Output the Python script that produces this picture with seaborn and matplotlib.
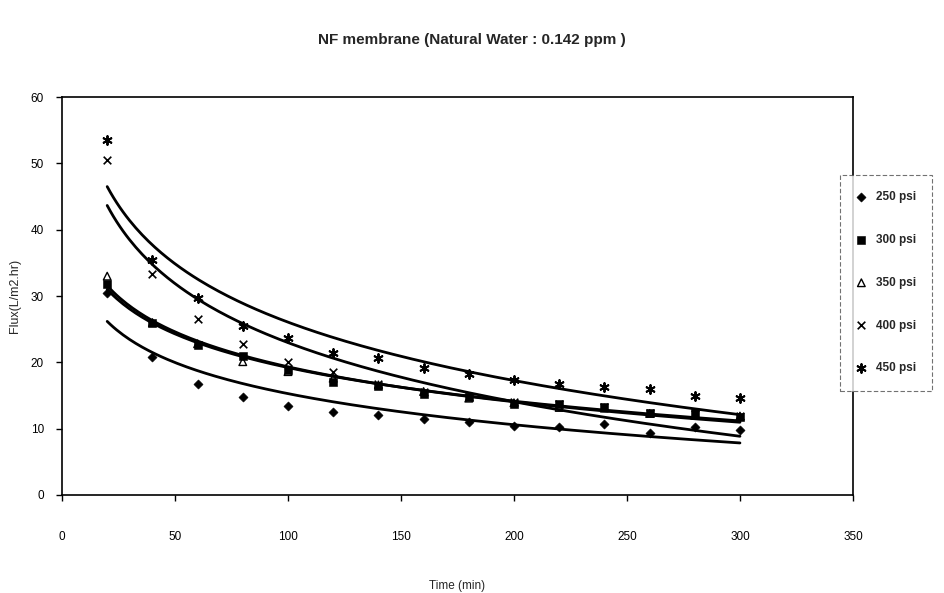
import matplotlib
matplotlib.use("Agg")
import matplotlib.pyplot as plt
import numpy as np
import pandas as pd
import seaborn as sns

# Flux readings for the NF membrane
time_min = [20, 40, 60, 80, 100, 120, 140, 160, 180, 200, 220, 240, 260, 280, 300]
flux_250 = [30.5, 20.8, 16.7, 14.7, 13.4, 12.5, 12.0, 11.5, 11.0, 10.4, 10.2, 10.7, 9.3, 10.3, 9.8]
flux_300 = [31.8, 26.0, 22.6, 20.9, 18.8, 17.1, 16.4, 15.2, 14.8, 13.7, 13.7, 13.3, 12.3, 12.3, 11.8]
flux_350 = [33.0, 26.0, 22.8, 20.1, 18.6, 17.6, 16.6, 15.6, 14.6, 13.9, 13.2, 13.1, 12.3, 12.0, 11.9]
flux_400 = [50.5, 33.3, 26.5, 22.8, 20.0, 18.6, 16.8, 15.6, 14.8, 14.0, 13.7, 13.2, 12.4, 12.2, 11.9]
flux_450 = [53.5, 35.5, 29.7, 25.5, 23.7, 21.4, 20.6, 19.1, 18.3, 17.3, 16.8, 16.3, 16.0, 14.9, 14.6]
labels = ["250 psi", "300 psi", "350 psi", "400 psi", "450 psi"]

series = [flux_250, flux_300, flux_350, flux_400, flux_450]
df = pd.DataFrame({
    "time": time_min * len(series),
    "flux": [v for s in series for v in s],
    "pressure": [lab for lab in labels for _ in time_min],
})

sns.set_theme(style="white")
plt.rcParams["font.family"] = ["Liberation Sans", "DejaVu Sans"]

fig = plt.figure(figsize=(9.45, 5.93), dpi=100)
ax = fig.add_axes([0.0656, 0.1653, 0.837, 0.671])

# marker styles roughly like the old Excel defaults
marker_opts = {
    "250 psi": dict(marker="D", s=22, color="black", edgecolor="black"),
    "300 psi": dict(marker="s", s=26, color="black", edgecolor="black"),
    "350 psi": dict(marker="^", s=30, facecolor="none", edgecolor="black", linewidth=1.0),
    "400 psi": dict(marker="x", s=30, color="black", linewidth=1.2),
    "450 psi": dict(marker=(6, 2, 0), s=40, color="black", linewidth=1.4),
}

handles = []
for lab in labels:
    sub = df[df["pressure"] == lab]
    sns.scatterplot(data=sub, x="time", y="flux", ax=ax, legend=False, **marker_opts[lab])
    handles.append(ax.collections[-1])

    # logarithmic trendline, y = a*ln(x) + b
    a, b = np.polyfit(np.log(sub["time"]), sub["flux"], 1)
    xs = np.linspace(min(time_min), max(time_min), 200)
    sns.lineplot(x=xs, y=a * np.log(xs) + b, ax=ax, color="black", linewidth=2.0)

if ax.get_legend() is not None:
    ax.get_legend().remove()

ax.set_xlim(0, 350)
ax.set_ylim(0, 60)
ax.set_xticks(range(0, 351, 50))
ax.set_yticks(range(0, 61, 10))
for side in ["left", "right", "top", "bottom"]:
    ax.spines[side].set_visible(True)
    ax.spines[side].set_color("black")
    ax.spines[side].set_linewidth(1.2)
ax.tick_params(axis="both", direction="out", length=4, width=1, colors="black", labelsize=8.5)
ax.tick_params(axis="x", pad=22, bottom=True)
ax.tick_params(axis="y", pad=9, left=True)

ax.set_xlabel("Time (min)", fontsize=8.5)
ax.set_ylabel("Flux(L/m2.hr)", fontsize=9)
ax.xaxis.set_label_coords(0.5, -0.213)
ax.yaxis.set_label_coords(-0.052, 0.5)

fig.text(0.499, 0.932, "NF membrane (Natural Water : 0.142 ppm )", ha="center", va="center",
         fontsize=11, fontweight="bold")

leg = fig.legend(handles=handles, labels=labels, loc="upper left", bbox_to_anchor=(0.889, 0.705),
                 frameon=True, fancybox=False, labelspacing=2.6, handletextpad=0.8,
                 handlelength=0.8, borderpad=1.4, borderaxespad=0.0,
                 prop={"weight": "bold", "size": 8.5})
leg.get_frame().set_edgecolor("0.3")
leg.get_frame().set_linewidth(0.8)
leg.get_frame().set_linestyle((0, (4, 2)))

fig.savefig("out.png", dpi=100, facecolor="white")
